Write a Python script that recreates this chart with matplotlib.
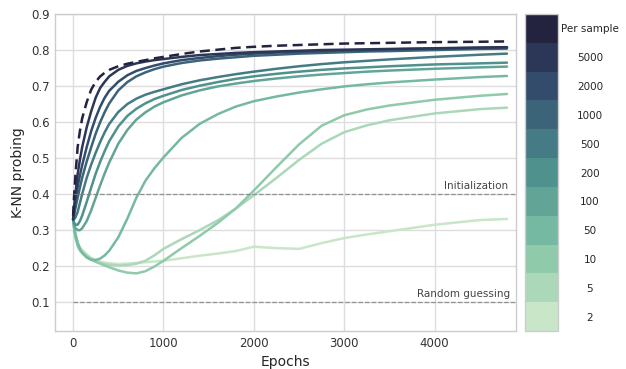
import numpy as np
import matplotlib
matplotlib.use("Agg")
import matplotlib.pyplot as plt
import seaborn as sns
from matplotlib.colors import ListedColormap, BoundaryNorm
from matplotlib.colorbar import ColorbarBase

epochs = [0, 10, 25, 50, 75, 100, 150, 200, 250, 300, 350, 400, 500, 600, 700, 800, 900, 1000,
          1200, 1400, 1600, 1800, 2000, 2250, 2500, 2750, 3000, 3250, 3500, 4000, 4500, 4800]

knn_per_sample = [0.34, 0.39, 0.45, 0.53, 0.575, 0.61, 0.655, 0.69, 0.712, 0.727, 0.737, 0.745, 0.755, 0.762,
                  0.767, 0.772, 0.777, 0.781, 0.789, 0.796, 0.801, 0.806, 0.809, 0.812, 0.814, 0.816,
                  0.818, 0.819, 0.82, 0.822, 0.823, 0.824]
knn_5000 = [0.33, 0.36, 0.40, 0.455, 0.495, 0.53, 0.585, 0.63, 0.668, 0.695, 0.712, 0.727, 0.745, 0.756,
            0.763, 0.768, 0.772, 0.775, 0.781, 0.786, 0.789, 0.792, 0.794, 0.796, 0.798, 0.80,
            0.801, 0.802, 0.803, 0.805, 0.807, 0.808]
knn_2000 = [0.33, 0.35, 0.38, 0.42, 0.452, 0.48, 0.53, 0.575, 0.612, 0.643, 0.668, 0.687, 0.712, 0.73,
            0.742, 0.75, 0.757, 0.763, 0.772, 0.778, 0.783, 0.787, 0.79, 0.793, 0.795, 0.797,
            0.799, 0.80, 0.802, 0.804, 0.806, 0.807]
knn_1000 = [0.33, 0.34, 0.36, 0.39, 0.418, 0.445, 0.49, 0.53, 0.568, 0.60, 0.628, 0.652, 0.688, 0.711,
            0.727, 0.738, 0.747, 0.754, 0.764, 0.771, 0.776, 0.78, 0.784, 0.787, 0.79, 0.792,
            0.794, 0.796, 0.797, 0.80, 0.803, 0.804]
knn_500 = [0.33, 0.33, 0.335, 0.35, 0.375, 0.40, 0.445, 0.482, 0.515, 0.545, 0.572, 0.595, 0.628, 0.65,
           0.665, 0.676, 0.684, 0.691, 0.705, 0.716, 0.725, 0.733, 0.74, 0.748, 0.755, 0.761,
           0.766, 0.77, 0.774, 0.781, 0.787, 0.79]
knn_200 = [0.33, 0.322, 0.315, 0.315, 0.325, 0.34, 0.378, 0.418, 0.457, 0.49, 0.52, 0.547, 0.588, 0.617,
           0.637, 0.652, 0.664, 0.673, 0.689, 0.701, 0.711, 0.72, 0.727, 0.734, 0.74, 0.745,
           0.749, 0.752, 0.755, 0.76, 0.763, 0.765]
knn_100 = [0.33, 0.318, 0.306, 0.30, 0.30, 0.305, 0.325, 0.355, 0.39, 0.425, 0.458, 0.488, 0.54, 0.578,
           0.607, 0.627, 0.643, 0.655, 0.674, 0.688, 0.699, 0.707, 0.714, 0.721, 0.727, 0.732,
           0.736, 0.74, 0.743, 0.748, 0.752, 0.754]
knn_50 = [0.33, 0.31, 0.288, 0.265, 0.248, 0.237, 0.224, 0.218, 0.217, 0.221, 0.23, 0.243, 0.28, 0.332,
          0.39, 0.437, 0.472, 0.502, 0.556, 0.595, 0.622, 0.643, 0.658, 0.671, 0.682, 0.691,
          0.699, 0.705, 0.71, 0.718, 0.725, 0.728]
knn_10 = [0.33, 0.305, 0.28, 0.256, 0.244, 0.237, 0.226, 0.218, 0.212, 0.207, 0.202, 0.197, 0.188, 0.182,
          0.18, 0.186, 0.199, 0.215, 0.25, 0.284, 0.32, 0.36, 0.41, 0.475, 0.538, 0.59,
          0.619, 0.635, 0.646, 0.662, 0.673, 0.678]
knn_5 = [0.33, 0.31, 0.29, 0.265, 0.25, 0.242, 0.229, 0.219, 0.213, 0.209, 0.206, 0.204, 0.202, 0.203,
         0.207, 0.215, 0.23, 0.248, 0.275, 0.30, 0.327, 0.36, 0.397, 0.445, 0.495, 0.54,
         0.572, 0.591, 0.605, 0.624, 0.636, 0.64]
knn_2 = [0.33, 0.31, 0.29, 0.265, 0.252, 0.245, 0.233, 0.223, 0.217, 0.213, 0.21, 0.208, 0.206, 0.207,
         0.209, 0.211, 0.213, 0.215, 0.222, 0.229, 0.235, 0.242, 0.254, 0.25, 0.248, 0.264,
         0.278, 0.288, 0.297, 0.315, 0.328, 0.331]

bin_labels = ["2", "5", "10", "50", "100", "200", "500", "1000", "2000", "5000", "Per sample"]
bin_colors = ["#c9e6c9", "#abd8b9", "#8fcaaa", "#76b9a2", "#62a597", "#4f918d",
              "#457b85", "#3b6479", "#344c6b", "#2c3757", "#23233f"]
init_level = 0.4
random_level = 0.1

sns.set_theme(style="whitegrid")
plt.rcParams['font.family'] = ['DejaVu Sans']

fig = plt.figure(figsize=(6.26, 3.69), dpi=100)
ax = fig.add_axes([0.0879, 0.103, 0.7364, 0.859])

series = [knn_2, knn_5, knn_10, knn_50, knn_100, knn_200, knn_500, knn_1000, knn_2000, knn_5000]
for i, ys in enumerate(series):
    ax.plot(epochs, ys, color=bin_colors[i], lw=1.8, solid_capstyle='round', solid_joinstyle='round')
ax.plot(epochs, knn_per_sample, color=bin_colors[-1], lw=1.8, ls=(0, (4, 2.2)))

ax.hlines([init_level, random_level], 0, 4900, colors='grey', linestyles='--', lw=0.9, alpha=0.8)
ax.text(4808, init_level + 0.01, "Initialization", ha='right', va='bottom', fontsize=7.5, color='#444444')
ax.text(4840, random_level + 0.01, "Random guessing", ha='right', va='bottom', fontsize=7.5, color='#444444')

ax.set_xlim(-200, 4900)
ax.set_ylim(0.02, 0.9)
ax.set_xticks([0, 1000, 2000, 3000, 4000])
ax.set_yticks(np.arange(0.1, 0.91, 0.1))
ax.set_yticklabels([f"{v:.1f}" for v in np.arange(0.1, 0.91, 0.1)])
ax.tick_params(labelsize=8.5, colors='#333333', length=0, pad=4)
ax.set_xlabel("Epochs", fontsize=10, color='#262626')
ax.set_ylabel("K-NN probing", fontsize=10, color='#262626')
for sp in ax.spines.values():
    sp.set_color('#cccccc')
    sp.set_linewidth(1)
ax.grid(color='#dddddd', lw=1)

# discrete colour bar on the right
cax = fig.add_axes([0.8387, 0.103, 0.0527, 0.859])
cmap = ListedColormap(bin_colors)
norm = BoundaryNorm(np.arange(len(bin_labels) + 1), cmap.N)
cb = ColorbarBase(cax, cmap=cmap, norm=norm, orientation='vertical')
cb.set_ticks(np.arange(len(bin_labels)) + 0.5)
cb.set_ticklabels(bin_labels)
cb.minorticks_off()
cb.outline.set_edgecolor('#cccccc')
cb.outline.set_linewidth(1)
cax.tick_params(which='both', length=0, pad=23, labelsize=7.5, colors='#262626')
for t in cax.get_yticklabels():
    t.set_ha('center')

fig.savefig("out.png", dpi=100)
